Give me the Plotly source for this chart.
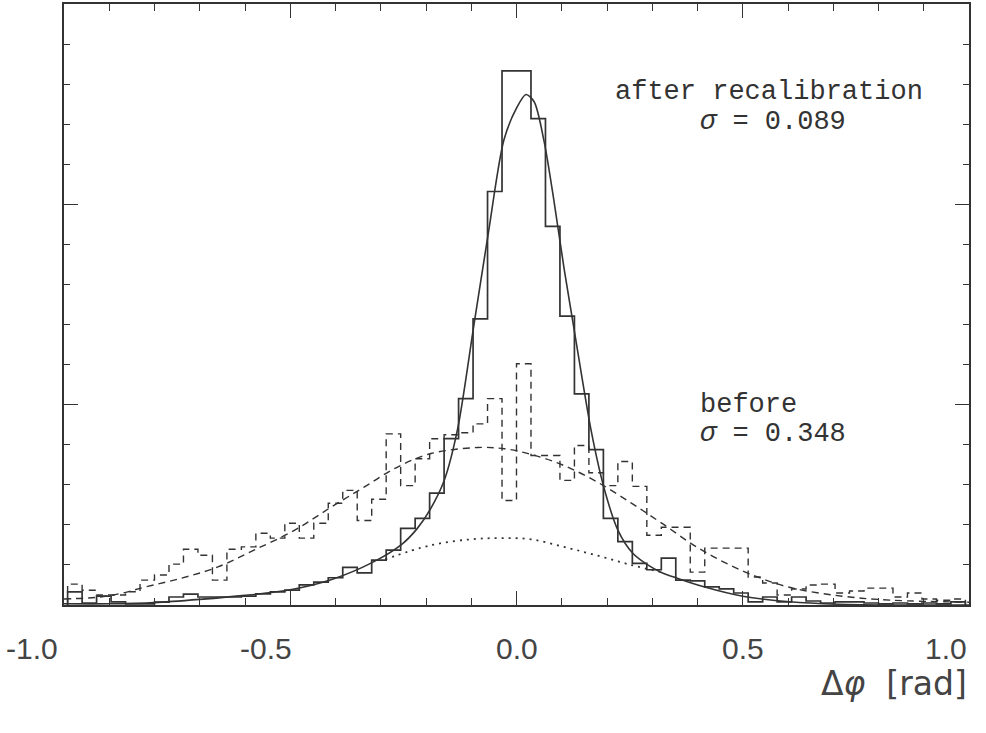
import plotly.graph_objects as go

# ---------------- data ----------------
bin_start = -0.992
bin_width = 0.032

# histogram after recalibration (solid), 62 bins
after_counts = [
    0.33, 0.05, 0.22, 0.08, 0.03, 0.03, 0.07, 0.20, 0.27, 0.20,
    0.20, 0.20, 0.22, 0.28, 0.33, 0.37, 0.50, 0.57, 0.68, 0.94,
    0.80, 1.12, 1.37, 1.91, 2.16, 2.79, 4.15, 5.15, 7.14, 10.32,
    13.33, 13.33, 12.14, 9.45, 7.21, 5.27, 3.88, 2.16, 1.58, 1.04,
    0.88, 1.17, 0.62, 0.60, 0.45, 0.40, 0.30, 0.08, 0.20, 0.08,
    0.20, 0.10, 0.05, 0.08, 0.08, 0.05, 0.03, 0.05, 0.03, 0.05,
    0.03, 0.08,
]

# histogram before recalibration (dashed), 62 bins
before_counts = [
    0.52, 0.37, 0.25, 0.25, 0.33, 0.62, 0.75, 1.02, 1.39, 1.24,
    0.62, 1.39, 1.45, 1.79, 1.67, 2.04, 1.67, 2.04, 2.54, 2.86,
    2.11, 2.64, 4.27, 2.98, 3.65, 4.15, 4.25, 4.30, 4.52, 5.15,
    2.61, 6.02, 3.73, 3.73, 3.11, 3.98, 3.30, 2.98, 3.58, 2.96,
    1.74, 1.94, 1.94, 0.82, 1.42, 1.42, 1.42, 0.70, 0.55, 0.25,
    0.40, 0.50, 0.52, 0.30, 0.35, 0.42, 0.42, 0.20, 0.30, 0.15,
    0.12, 0.15,
]

# fitted curve after recalibration (solid)
fit_after_x = [-1.0, -0.9, -0.8, -0.7, -0.6, -0.5, -0.41, -0.317, -0.255, -0.22,
               -0.19, -0.16, -0.13, -0.094, -0.062, -0.028, 0.0, 0.021, 0.039, 0.061,
               0.083, 0.105, 0.127, 0.165, 0.193, 0.224, 0.257, 0.29, 0.319, 0.355,
               0.416, 0.5, 0.604, 0.71, 0.85, 1.0]
fit_after_y = [0.03, 0.03, 0.06, 0.14, 0.24, 0.38, 0.63, 1.07, 1.5, 1.9,
               2.4, 3.1, 4.4, 7.0, 9.3, 11.6, 12.4, 12.74, 12.56, 11.57,
               10.07, 8.41, 6.9, 4.35, 2.94, 1.87, 1.29, 1.0, 0.82, 0.67,
               0.45, 0.22, 0.08, 0.02, 0.0, 0.0]

# broad (background) component of the fit after recalibration (dotted)
fit_bkg_x = [-0.29, -0.19, -0.1, -0.034, 0.032, 0.105, 0.18, 0.253, 0.32]
fit_bkg_y = [1.14, 1.49, 1.64, 1.67, 1.64, 1.45, 1.23, 1.0, 0.82]

# fitted curve before recalibration (dashed)
fit_before_x = [-1.0, -0.92, -0.87, -0.82, -0.74, -0.66, -0.58, -0.49, -0.41, -0.337,
                -0.262, -0.189, -0.086, -0.027, 0.032, 0.105, 0.18, 0.253, 0.32, 0.405,
                0.5, 0.6, 0.72, 0.83, 1.0]
fit_before_y = [0.15, 0.2, 0.3, 0.45, 0.67, 0.95, 1.37, 1.87, 2.44, 2.94,
                3.45, 3.78, 3.93, 3.9, 3.76, 3.48, 3.06, 2.55, 2.05, 1.4,
                0.85, 0.45, 0.22, 0.12, 0.07]

tick_values = [-1.0, -0.5, 0.0, 0.5, 1.0]
tick_labels = ["-1.0", "-0.5", "0.0", "0.5", "1.0"]

# ---------------- build step outlines ----------------
def step_outline(counts):
    edges = [bin_start + bin_width * k for k in range(len(counts) + 1)]
    xs = [edges[0]] + edges[:-1] + [edges[-1], edges[-1]]
    ys = [0.0] + list(counts) + [counts[-1], 0.0]
    return xs, ys

INK = "#333333"
fig = go.Figure()

xb, yb = step_outline(before_counts)
fig.add_trace(go.Scatter(x=xb, y=yb, mode="lines", line_shape="hv",
                         line=dict(color=INK, width=1.4, dash="7px,5px"),
                         hoverinfo="skip", showlegend=False))
fig.add_trace(go.Scatter(x=fit_before_x, y=fit_before_y, mode="lines",
                         line=dict(color=INK, width=1.4, dash="7px,5px", shape="spline", smoothing=1.0),
                         hoverinfo="skip", showlegend=False))
fig.add_trace(go.Scatter(x=fit_bkg_x, y=fit_bkg_y, mode="lines",
                         line=dict(color=INK, width=1.8, dash="2px,5px", shape="spline", smoothing=1.0),
                         hoverinfo="skip", showlegend=False))
xa, ya = step_outline(after_counts)
fig.add_trace(go.Scatter(x=xa, y=ya, mode="lines", line_shape="hv",
                         line=dict(color=INK, width=1.7),
                         hoverinfo="skip", showlegend=False))
fig.add_trace(go.Scatter(x=fit_after_x, y=fit_after_y, mode="lines",
                         line=dict(color=INK, width=1.6, shape="spline", smoothing=0.8),
                         hoverinfo="skip", showlegend=False))

axis_common = dict(showgrid=False, zeroline=False, showline=True, linecolor=INK, linewidth=1.6,
                   mirror="all", ticks="inside", tickcolor=INK, tickwidth=1.3, ticklen=14)

fig.update_xaxes(range=[-1.0, 1.0], tickvals=tick_values, showticklabels=False,
                 minor=dict(dtick=0.1, tick0=0, ticks="inside", ticklen=7, tickcolor=INK, tickwidth=1.3),
                 **axis_common)
fig.update_yaxes(range=[0, 15], tickvals=[0, 5, 10, 15], showticklabels=False,
                 minor=dict(dtick=1, tick0=0, ticks="inside", ticklen=6, tickcolor=INK, tickwidth=1.3),
                 **axis_common)

# tick labels
label_font = dict(family="Liberation Sans, Arial, sans-serif", size=30, color="#444")
shifts = {"-1.0": (-4, "right"), "-0.5": (-24, "center"), "0.0": (0, "center"),
          "0.5": (0, "center"), "1.0": (0, "right")}
for v, t in zip(tick_values, tick_labels):
    dx, anchor = shifts[t]
    fig.add_annotation(x=v, y=0, xref="x", yref="y", text=t, showarrow=False,
                       xanchor=anchor, yanchor="middle", xshift=dx, yshift=-43,
                       font=label_font)

# axis title
fig.add_annotation(x=1.0, y=0, xref="x", yref="y", xanchor="right", yanchor="middle",
                   yshift=-78, showarrow=False,
                   text="\u0394<i>\u03c6</i>\u00a0\u00a0[rad]",
                   font=dict(family="DejaVu Sans, sans-serif", size=33, color="#444"))

text_font = dict(family="Liberation Mono, Courier New, monospace", size=27, color="#333")
fig.add_annotation(x=0.213, y=12.81, xref="x", yref="y", text="after recalibration",
                   showarrow=False, xanchor="left", yanchor="middle", font=text_font)
fig.add_annotation(x=0.401, y=12.06, xref="x", yref="y", text="<i>\u03c3</i> = 0.089",
                   showarrow=False, xanchor="left", yanchor="middle", font=text_font)
fig.add_annotation(x=0.401, y=4.98, xref="x", yref="y", text="before",
                   showarrow=False, xanchor="left", yanchor="middle", font=text_font)
fig.add_annotation(x=0.401, y=4.28, xref="x", yref="y", text="<i>\u03c3</i> = 0.348",
                   showarrow=False, xanchor="left", yanchor="middle", font=text_font)

fig.update_layout(width=986, height=733, margin=dict(l=64, r=17, t=2, b=128),
                  paper_bgcolor="white", plot_bgcolor="white")

fig.write_html("out.html")
